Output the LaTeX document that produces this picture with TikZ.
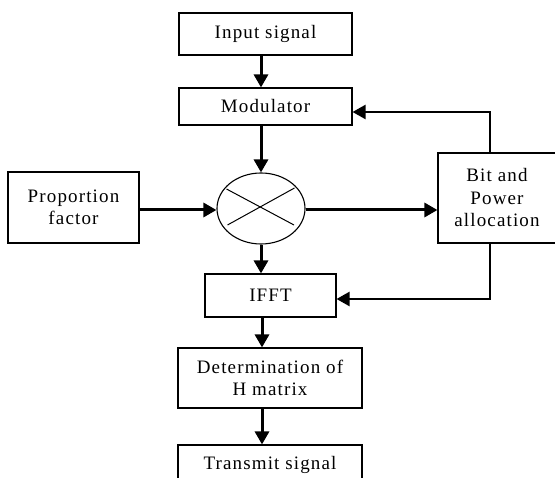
\documentclass[tikz,border=0pt]{standalone}
\usepackage{fontspec}
\setmainfont[LetterSpace=6]{Liberation Serif}
\usetikzlibrary{arrows.meta,shapes.geometric,calc}
\begin{document}
\begin{tikzpicture}[x=1pt,y=-1pt,
  blk/.style={draw,line width=1.1pt,inner sep=0pt,align=center,
    font=\fontsize{19}{22.5}\selectfont},
  mixer/.style={draw,ellipse,line width=1.1pt,inner sep=0pt,minimum width=88pt,minimum height=71pt},
  flow/.style={line width=3pt,-{Triangle[length=13pt,width=14pt]}},
  fb/.style={line width=2.4pt,-{Triangle[length=13pt,width=14pt]}},
  cross/.style={line width=1pt}]
\useasboundingbox (0,0) rectangle (555,478);
\clip (0,0) rectangle (555,478);
\node[blk,minimum width=173pt,minimum height=42pt] (in) at (265.5,34) {Input signal};
\node[blk,minimum width=173pt,minimum height=37pt] (mod) at (265.5,106.5) {Modulator};
\node[blk,minimum width=131pt,minimum height=71pt] (prop) at (73.5,207.5) {Proportion\\factor};
\node[mixer] (mix) at (261,208.5) {};
\draw[cross] ($(mix.center)+(-34.5,-19.5)$) -- ($(mix.center)+(33,16.5)$);
\draw[cross] ($(mix.center)+(33.5,-20.5)$) -- ($(mix.center)+(-33.5,16.5)$);
\node[blk,minimum width=118pt,minimum height=90pt] (bit) at (497,198) {Bit and\\Power\\allocation};
\node[blk,minimum width=131pt,minimum height=43pt] (ifft) at (270.5,295.5) {IFFT};
\node[blk,minimum width=184pt,minimum height=60pt] (det) at (270,378) {Determination of\\H matrix};
\node[blk,minimum width=184pt,minimum height=40pt] (tx) at (270,465) {Transmit signal};
\coordinate (fbtop) at (490,112);
\coordinate (fbbot) at (490,299);
\draw[flow] (in.south -| mix.center) -- (mod.north -| mix.center);
\draw[flow] (mod.south -| mix.center) -- (mix.north);
\draw[flow] (prop.east |- 0,210) -- (mix.west |- 0,210);
\draw[flow] (mix.east |- 0,210) -- (bit.west |- 0,210);
\draw[flow] (mix.south) -- (ifft.north -| mix.center);
\draw[flow] (ifft.south -| 262,0) -- (det.north -| 262,0);
\draw[flow] (det.south -| 262,0) -- (tx.north -| 262,0);
\draw[fb] (bit.north -| fbtop) -- (fbtop) -- (mod.east |- fbtop);
\draw[fb] (bit.south -| fbbot) -- (fbbot) -- (ifft.east |- fbbot);
\end{tikzpicture}
\end{document}
